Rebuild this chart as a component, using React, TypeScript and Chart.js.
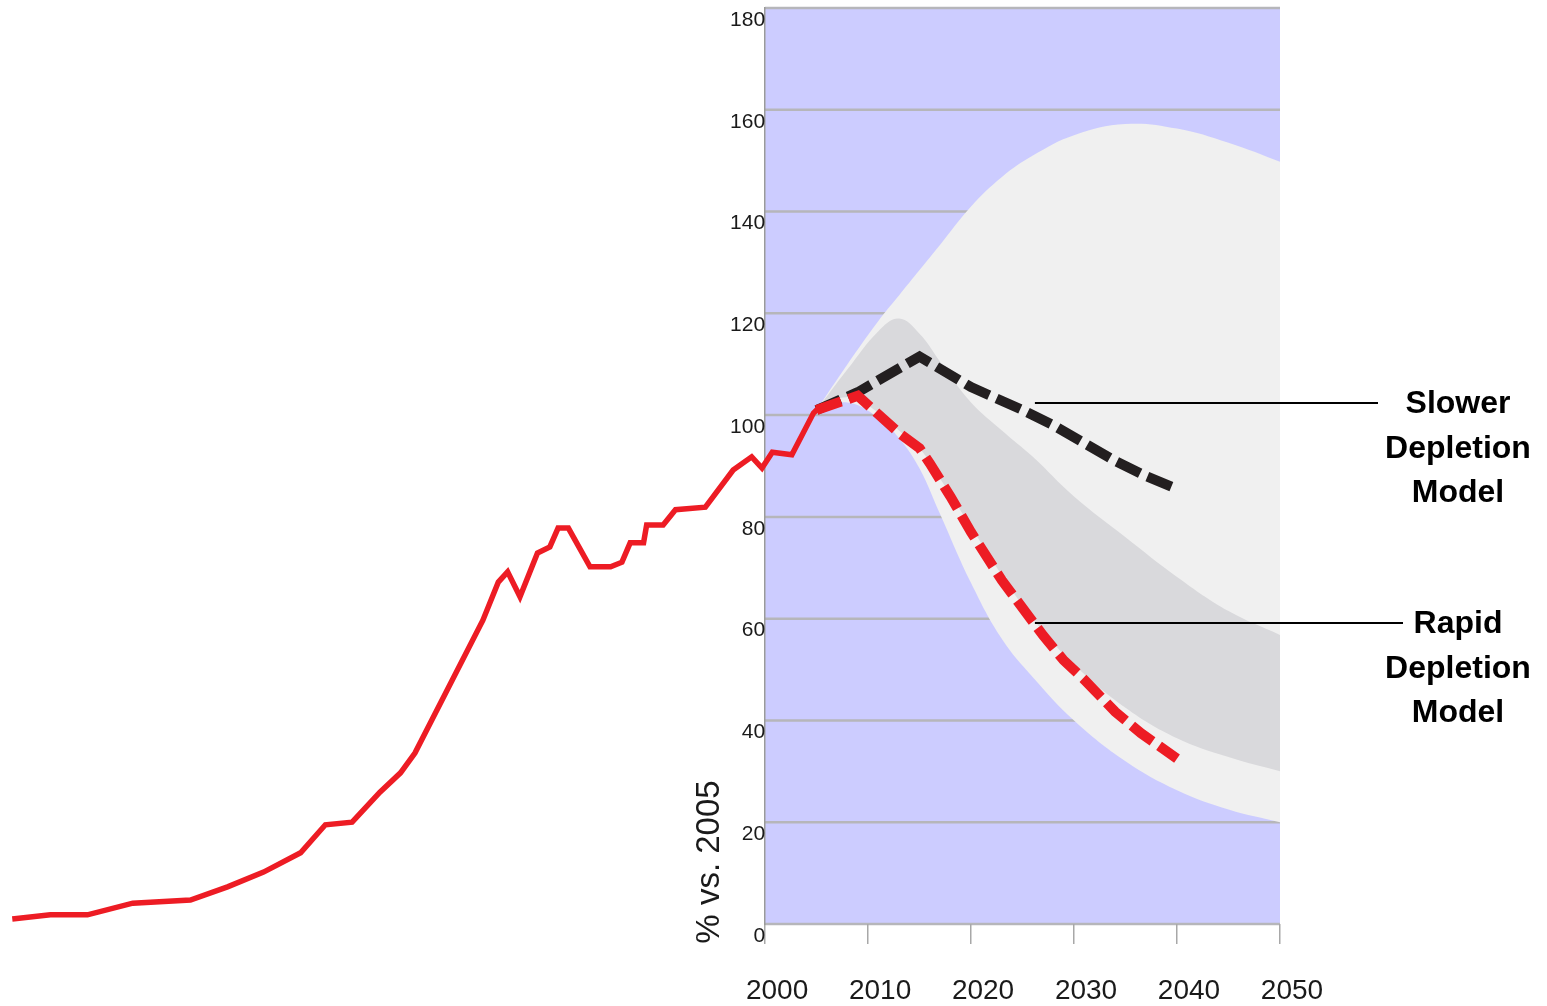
import { useEffect, useRef } from "react";
import { Chart, registerables } from "chart.js";

Chart.register(...registerables);

// ---- axes ----
const X_MIN = 1926;
const X_MAX = 2050;
const xTickValues = [2000, 2010, 2020, 2030, 2040, 2050];
const Y_MIN = 0;
const Y_MAX = 180;
const Y_STEP = 20;
const SHADED_FROM = 2000;
const SHADED_TO = 2050;
const yAxisTitle = "% vs. 2005";

// ---- historical production (solid red) ----
const historyYears = [
  1926.9, 1930.6, 1934.2, 1938.6, 1944.2, 1947.8, 1951.3, 1954.9, 1957.3, 1959.9,
  1962.6, 1964.6, 1966.0, 1972.6, 1974.1, 1975.0, 1976.2, 1977.9, 1979.1, 1979.9,
  1980.9, 1983.0, 1985.0, 1986.1, 1986.9, 1988.2, 1988.5, 1990.1, 1991.3, 1994.2,
  1996.9, 1998.7, 1999.7, 2000.7, 2002.6, 2004.7, 2005.3,
];
const historyValues = [
  1.0, 1.8, 1.8, 4.1, 4.7, 7.3, 10.2, 14.0, 19.5, 20.0,
  25.9, 29.7, 33.6, 59.7, 67.2, 69.2, 64.3, 72.9, 74.1, 77.8,
  77.8, 70.2, 70.2, 71.1, 74.9, 74.9, 78.4, 78.4, 81.4, 81.9,
  89.2, 91.8, 89.6, 92.7, 92.2, 100.4, 101.6,
];

// ---- projections (dashed) ----
const slowerYears = [2005, 2009, 2015, 2020, 2025, 2028, 2031, 2034, 2037, 2040];
const slowerValues = [101, 104.5, 111.5, 105.5, 101, 98, 94.5, 91, 88, 85.5];

const rapidYears = [2005, 2009, 2013, 2015, 2016, 2018, 2020, 2023, 2027, 2029, 2031, 2034, 2036.5, 2040];
const rapidValues = [101, 103.8, 96.5, 93.5, 90.5, 84, 77, 67.5, 56.7, 51.8, 48, 41.7, 37.5, 32.5];

// ---- uncertainty bands ----
const bandYears = [2005, 2008, 2011, 2013, 2015, 2017, 2020, 2023, 2026, 2030, 2035, 2040, 2045, 2050];
const outerUpper = [101, 110, 118.5, 123.5, 128.5, 133.5, 141, 146.8, 151, 155, 157.2, 156.3, 153.5, 149.8];
const outerLower = [101, 102.5, 99.5, 95.5, 89.5, 80.5, 67, 56, 48.5, 40, 32, 26.3, 22.5, 20];
const innerUpper = [101, 109, 116.5, 119, 116, 110.5, 102.5, 97, 91.8, 84, 76, 68.2, 61.5, 56.8];
const innerLower = [101, 103.5, 100.5, 97, 93.5, 87.5, 78, 68.5, 60, 51, 42.5, 36.5, 32.8, 30];

// ---- annotations ----
const annotationLabels = [
  ["Slower", "Depletion", "Model"],
  ["Rapid", "Depletion", "Model"],
];
const annotationAnchorYears = [2026.2, 2026.2];
const annotationAnchorValues = [102.3, 59.2];

const COLORS = {
  blue: "#ccccff",
  grid: "#b6b6ba",
  axis: "#9a9a9a",
  outer: "#f0f0f0",
  inner: "#d9d9dc",
  red: "#ed1c24",
  black: "#231f20",
  text: "#1a1a1a",
};

const pts = (xs: number[], ys: number[]) => xs.map((x, i) => ({ x, y: ys[i] }));

const backgroundPlugin = {
  id: "bgPlugin",
  beforeDraw(chart: any) {
    const { ctx, chartArea, scales } = chart;
    const xs = scales.x;
    const ys = scales.y;
    const x0 = xs.getPixelForValue(SHADED_FROM);
    const x1 = xs.getPixelForValue(SHADED_TO);
    ctx.save();
    ctx.fillStyle = COLORS.blue;
    ctx.fillRect(x0, chartArea.top, x1 - x0, chartArea.bottom - chartArea.top);
    ctx.strokeStyle = COLORS.grid;
    ctx.lineWidth = 2.5;
    for (const t of ys.ticks) {
      const y = ys.getPixelForValue(t.value);
      ctx.beginPath();
      ctx.moveTo(x0, y);
      ctx.lineTo(x1, y);
      ctx.stroke();
    }
    ctx.restore();
  },
  afterDatasetsDraw(chart: any) {
    const { ctx, scales } = chart;
    ctx.save();
    ctx.strokeStyle = "#000";
    ctx.lineWidth = 2;
    const lineEnds = [1378, 1403];
    annotationLabels.forEach((lines, i) => {
      const ax = scales.x.getPixelForValue(annotationAnchorYears[i]);
      const ay = Math.round(scales.y.getPixelForValue(annotationAnchorValues[i]));
      ctx.beginPath();
      ctx.moveTo(ax, ay);
      ctx.lineTo(lineEnds[i], ay);
      ctx.stroke();
      ctx.fillStyle = "#000";
      ctx.font = "bold 32px 'Liberation Sans', Arial, sans-serif";
      ctx.textAlign = "center";
      ctx.textBaseline = "alphabetic";
      lines.forEach((ln, j) => {
        ctx.fillText(ln, 1458, ay + 10 + j * 44.5);
      });
    });
    ctx.restore();
  },
  afterDraw(chart: any) {
    const { ctx } = chart;
    ctx.save();
    ctx.translate(719, 862);
    ctx.rotate(-Math.PI / 2);
    ctx.fillStyle = COLORS.text;
    ctx.font = "33px 'Liberation Sans', Arial, sans-serif";
    ctx.textAlign = "center";
    ctx.textBaseline = "alphabetic";
    ctx.fillText(yAxisTitle, 0, 0);
    ctx.restore();
  },
};

export default function App() {
  const canvasRef = useRef<HTMLCanvasElement | null>(null);

  useEffect(() => {
    if (!canvasRef.current) return;
    const band = (values: number[], fill: any, color: string, order: number) => ({
      data: pts(bandYears, values),
      borderWidth: 0,
      borderColor: "transparent",
      pointRadius: 0,
      fill,
      backgroundColor: color,
      tension: 0.4,
      order,
    });
    const chart = new Chart(canvasRef.current, {
      type: "line",
      data: {
        datasets: [
          { label: "outerUpper", ...band(outerUpper, "+1", COLORS.outer, 10) },
          { label: "outerLower", ...band(outerLower, false, COLORS.outer, 10) },
          { label: "innerUpper", ...band(innerUpper, "+1", COLORS.inner, 9) },
          { label: "innerLower", ...band(innerLower, false, COLORS.inner, 9) },
          {
            label: "Slower Depletion Model",
            data: pts(slowerYears, slowerValues),
            borderColor: COLORS.black,
            borderWidth: 10,
            borderDash: [26, 8],
            borderCapStyle: "butt",
            borderJoinStyle: "miter",
            pointRadius: 0,
            fill: false,
            tension: 0,
            order: 3,
          },
          {
            label: "Rapid Depletion Model",
            data: pts(rapidYears, rapidValues),
            borderColor: COLORS.red,
            borderWidth: 10,
            borderDash: [26, 8],
            borderCapStyle: "butt",
            borderJoinStyle: "miter",
            pointRadius: 0,
            fill: false,
            tension: 0,
            order: 2,
          },
          {
            label: "History",
            data: pts(historyYears, historyValues),
            borderColor: COLORS.red,
            borderWidth: 5.5,
            borderJoinStyle: "miter",
            pointRadius: 0,
            fill: false,
            tension: 0,
            order: 1,
          },
        ] as any,
      },
      options: {
        animation: false,
        responsive: true,
        maintainAspectRatio: false,
        devicePixelRatio: 1,
        events: [],
        layout: { padding: { left: 3, right: 267, top: 8, bottom: 82 } },
        plugins: {
          legend: { display: false },
          tooltip: { enabled: false },
        },
        scales: {
          x: {
            type: "linear",
            min: X_MIN,
            max: X_MAX,
            position: { y: 0 } as any,
            afterBuildTicks: (s: any) => {
              s.ticks = xTickValues.map((v) => ({ value: v }));
            },
            grid: {
              display: true,
              drawOnChartArea: false,
              drawTicks: true,
              tickLength: 20,
              color: "#a8a8a8",
              lineWidth: 1.5,
            },
            border: { display: false },
            ticks: {
              autoSkip: false,
              maxRotation: 0,
              labelOffset: 12,
              padding: 33,
              color: COLORS.text,
              font: { family: "'Liberation Sans', Arial, sans-serif", size: 28, lineHeight: 1 },
              callback: (v: any) => String(v),
            },
          },
          y: {
            type: "linear",
            min: Y_MIN,
            max: Y_MAX,
            position: { x: SHADED_FROM } as any,
            grid: { display: false, drawTicks: false },
            border: { display: true, color: COLORS.axis, width: 1.5 },
            ticks: {
              stepSize: Y_STEP,
              labelOffset: 12,
              padding: 2,
              color: COLORS.text,
              font: { family: "'Liberation Sans', Arial, sans-serif", size: 21, lineHeight: 0.5 },
              callback: (v: any) => String(v),
            },
          },
        },
      },
      plugins: [backgroundPlugin],
    });
    return () => chart.destroy();
  }, []);

  return (
    <div style={{ position: "fixed", left: 0, top: 0, width: 1547, height: 1006, background: "#fff" }}>
      <canvas ref={canvasRef} />
    </div>
  );
}
